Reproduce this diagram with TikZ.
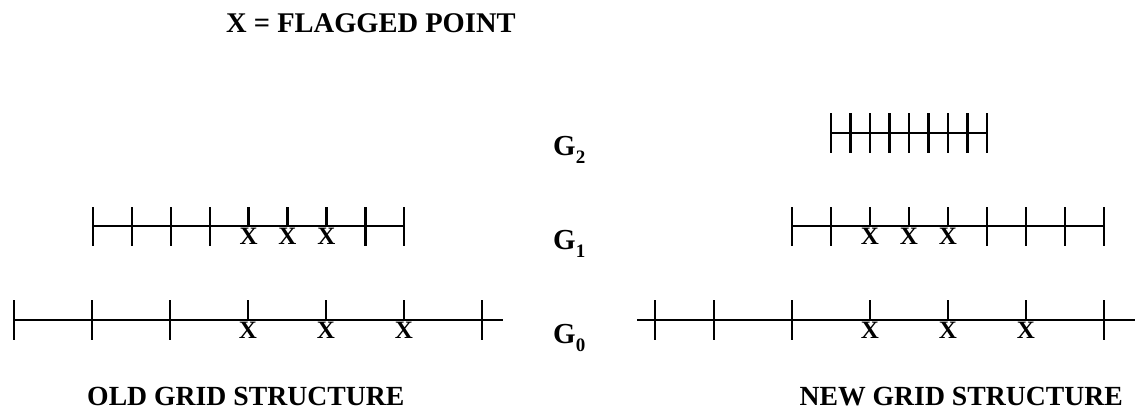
\documentclass[tikz,border=0pt]{standalone}
\usepackage{fontspec}
\setmainfont{Liberation Serif}
\begin{document}
\begin{tikzpicture}[x=1pt,y=-1pt,
  gridline/.style={line width=2.6pt},
  tk/.style={line width=2.4pt},
  flag/.style={font=\fontsize{25}{25}\selectfont\bfseries, inner sep=0pt, anchor=north},
  glabel/.style={font=\fontsize{29}{29}\selectfont\bfseries, inner sep=0pt, anchor=base west},
  caption/.style={font=\fontsize{28.5}{30}\selectfont\bfseries, inner sep=0pt, anchor=base west},
  bottomcap/.style={font=\fontsize{27.7}{29}\selectfont\bfseries, inner sep=0pt}]
\useasboundingbox (0,0) rectangle (1135,412);
\newcommand{\gsub}[1]{G\raisebox{-0.3em}{\fontsize{19}{19}\selectfont #1}}

% title
\node[caption] (title) at (226,33) {X = FLAGGED POINT};

% level labels
\node[glabel] (g2) at (553,155) {\gsub{2}};
\node[glabel] (g1) at (553,249) {\gsub{1}};
\node[glabel] (g0) at (553,343) {\gsub{0}};

% ---------- old grid ----------
% G1 old
\coordinate (o1a) at (93,226);
\coordinate (o1b) at (404,226);
\draw[gridline] (o1a) -- (o1b);
\foreach \i in {0,1,2,3,7,8} \draw[tk] ({93+38.9*\i},207) -- ({93+38.9*\i},246);
\foreach \i/\n in {4/a,5/b,6/c} {
  \draw[tk] ({93+38.9*\i},207) -- ({93+38.9*\i},226);
  \node[flag] (of1\n) at ({93+38.9*\i},228) {X};
}
% G0 old
\coordinate (o0a) at (14,320);
\coordinate (o0b) at (503,320);
\draw[gridline] (o0a) -- (o0b);
\foreach \i in {0,1,2,6} \draw[tk] ({14+78*\i},300) -- ({14+78*\i},340);
\foreach \i/\n in {3/a,4/b,5/c} {
  \draw[tk] ({14+78*\i},300) -- ({14+78*\i},320);
  \node[flag] (of0\n) at ({14+78*\i},322) {X};
}

% ---------- new grid ----------
% G2
\coordinate (n2a) at (831,133);
\coordinate (n2b) at (987,133);
\draw[gridline] (n2a) -- (n2b);
\foreach \i in {0,...,8} \draw[tk] ({831+19.5*\i},113) -- ({831+19.5*\i},153);
% G1 new
\coordinate (n1a) at (792,226);
\coordinate (n1b) at (1104,226);
\draw[gridline] (n1a) -- (n1b);
\foreach \i in {0,1,5,6,7,8} \draw[tk] ({792+39*\i},207) -- ({792+39*\i},246);
\foreach \i/\n in {2/a,3/b,4/c} {
  \draw[tk] ({792+39*\i},207) -- ({792+39*\i},226);
  \node[flag] (nf1\n) at ({792+39*\i},228) {X};
}
% G0 new
\coordinate (n0a) at (637,320);
\coordinate (n0b) at (1135,320);
\draw[gridline] (n0a) -- (n0b);
\foreach \x in {655,714,792,1104} \draw[tk] (\x,300) -- (\x,340);
\foreach \x/\n in {870/a,948/b,1026/c} {
  \draw[tk] (\x,300) -- (\x,320);
  \node[flag] (nf0\n) at (\x,322) {X};
}

% captions
\node[bottomcap, anchor=base west] (oldcap) at (87,405) {OLD GRID STRUCTURE};
\node[bottomcap, anchor=base east] (newcap) at (1123,405) {NEW GRID STRUCTURE};
\end{tikzpicture}
\end{document}
